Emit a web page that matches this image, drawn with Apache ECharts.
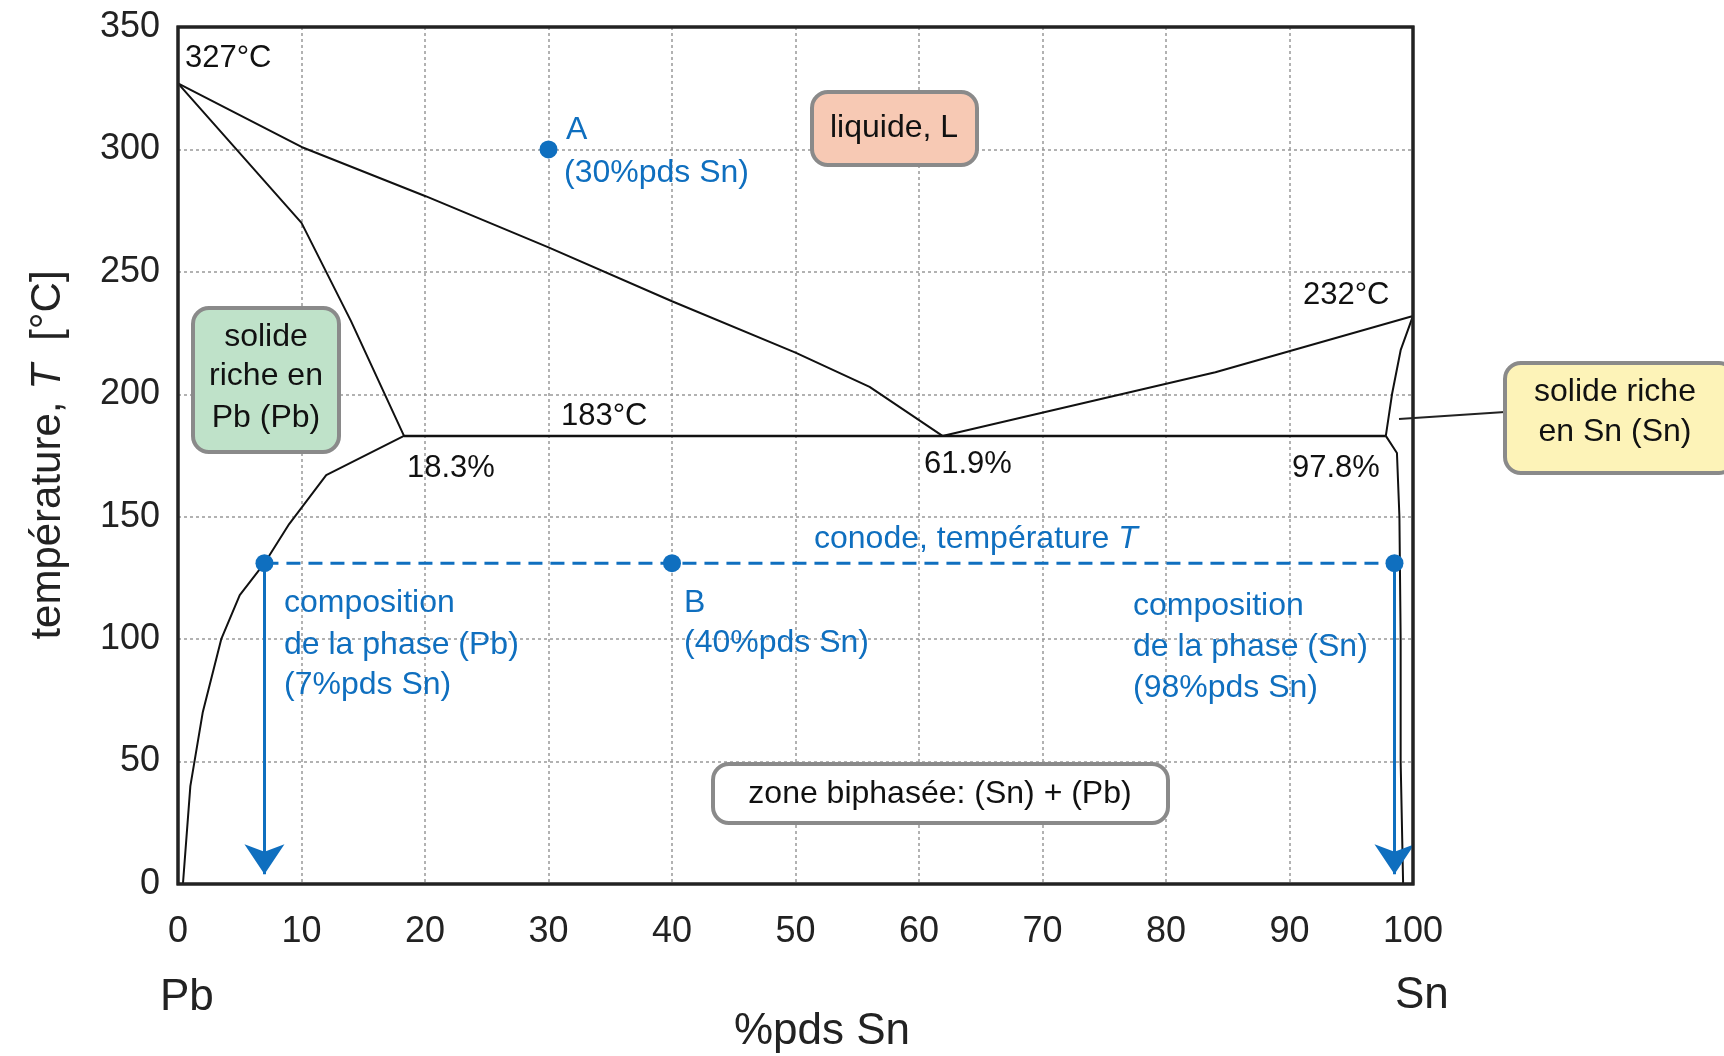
<!DOCTYPE html>
<html><head><meta charset="utf-8">
<script src="https://cdn.jsdelivr.net/npm/echarts@6/dist/echarts.min.js"></script>
<style>html,body{margin:0;background:#fff}#c{width:1724px;height:1056px}</style>
</head><body><div id="c"></div>
<script>
// données du diagramme Pb-Sn (x = %pds Sn, y = T en °C)
var xTicks = [0, 10, 20, 30, 40, 50, 60, 70, 80, 90, 100];
var yTicks = [0, 50, 100, 150, 200, 250, 300, 350];
var liquidusPb = [[0,327],[10,301],[20,281],[30,260],[40,238],[50,217],[56,203],[61.9,183]];
var liquidusSn = [[61.9,183],[84,209],[100,232]];
var solidusPb = [[0,327],[10,270],[14,230],[18.3,183]];
var solvusPb = [[18.3,183],[12,167],[9,147],[7,131],[5,118],[3.5,100],[2,70],[1,40],[0.4,0]];
var solidusSn = [[97.8,183],[98.3,200],[99,218],[100,232]];
var solvusSn = [[97.8,183],[98.7,176],[98.9,150],[99,100],[99,50],[99.2,0]];
var eutectique = [[18.3,183],[97.8,183]];
var conode = [[7,131],[40,131],[98.5,131]];
var pointA = [[30,300]];
var fleches = [[[7,131],[7,4]],[[98.5,131],[98.5,4]]];

var blue = '#0f6fbf';
var font = "'Liberation Sans',Arial,sans-serif";
var chart = echarts.init(document.getElementById('c'));

function curve(d, w) {
  return {type:'line', data:d, symbol:'none', silent:true,
    lineStyle:{color:'#111', width:w || 2}, z:3};
}
function txt(x, y, s, c, size, align) {
  return {type:'text', x:x, y:y, z:10, style:{text:s, fill:c || '#111',
    font:(size || 31) + 'px ' + font, textAlign:align || 'left', textVerticalAlign:'middle'}};
}
function box(x, y, w, h, fill) {
  return {type:'rect', shape:{x:x, y:y, width:w, height:h, r:16}, z:9,
    style:{fill:fill, stroke:'#8a8a8a', lineWidth:4}};
}

var series = [
  curve(liquidusPb), curve(liquidusSn), curve(solidusPb), curve(solvusPb),
  curve(solidusSn), curve(solvusSn), curve(eutectique, 2.5),
  {type:'line', data:conode, symbol:'circle', symbolSize:18, showAllSymbol:true,
    itemStyle:{color:blue, opacity:1}, lineStyle:{color:blue, width:3, type:[14,8]}, z:6},
  {type:'scatter', data:pointA, symbolSize:18, itemStyle:{color:blue, opacity:1}, z:6},
  {type:'lines', coordinateSystem:'cartesian2d', z:5,
    data:fleches.map(function (f) { return {coords:f}; }),
    symbol:['none','arrow'], symbolSize:[16,30],
    lineStyle:{color:blue, width:3, opacity:1}}
];

chart.setOption({
  animation:false,
  grid:{left:178, right:311, top:27, bottom:172, show:true, borderColor:'#222', borderWidth:3, z:4},
  xAxis:{type:'value', min:0, max:100, interval:10,
    axisLine:{show:false}, axisTick:{show:false},
    axisLabel:{color:'#222', fontSize:36, fontFamily:font, margin:30},
    splitLine:{lineStyle:{color:'#999', type:[3,3], width:1.5}}},
  yAxis:{type:'value', min:0, max:350, interval:50,
    axisLine:{show:false}, axisTick:{show:false},
    axisLabel:{color:'#222', fontSize:36, fontFamily:font, margin:18},
    splitLine:{lineStyle:{color:'#999', type:[3,3], width:1.5}}},
  series:series,
  graphic:[
    {type:'rect', shape:{x:178, y:27, width:1235, height:857}, z:8, silent:true,
      style:{fill:'none', stroke:'#222', lineWidth:3}},
    {type:'text', x:48, y:455, rotation:Math.PI/2, z:10, style:{
      rich:{n:{fontSize:42, fontFamily:font, fill:'#222'}, i:{fontSize:42, fontFamily:font, fontStyle:'italic', fill:'#222'}},
      text:'{n|température, }{i|T}{n|  [°C]}', textAlign:'center', textVerticalAlign:'middle'}},
    txt(160, 998, 'Pb', '#222', 44), txt(1395, 996, 'Sn', '#222', 44),
    txt(822, 1032, '%pds Sn', '#222', 44, 'center'),
    txt(185, 58, '327°C'), txt(1303, 295, '232°C'), txt(561, 416, '183°C'),
    txt(407, 468, '18.3%'), txt(924, 464, '61.9%'), txt(1292, 468, '97.8%'),
    box(812, 92, 165, 73, '#f7c9b4'), txt(894, 128, 'liquide, L', '#111', 32, 'center'),
    box(193, 308, 146, 144, '#bfe2c9'),
    txt(266, 337, 'solide', '#111', 32, 'center'),
    txt(266, 376, 'riche en', '#111', 32, 'center'),
    txt(266, 418, 'Pb (Pb)', '#111', 32, 'center'),
    {type:'line', shape:{x1:1399, y1:419, x2:1505, y2:412}, z:8, style:{stroke:'#222', lineWidth:2}},
    box(1505, 363, 230, 110, '#fdf3b8'),
    txt(1615, 392, 'solide riche', '#111', 32, 'center'),
    txt(1615, 432, 'en Sn (Sn)', '#111', 32, 'center'),
    box(713, 764, 455, 59, '#fff'),
    txt(940, 794, 'zone biphasée: (Sn) + (Pb)', '#111', 32, 'center'),
    txt(566, 130, 'A', blue, 32), txt(564, 173, '(30%pds Sn)', blue, 32),
    {type:'text', x:814, y:539, z:10, style:{
      rich:{n:{fontSize:32, fontFamily:font, fill:blue}, i:{fontSize:32, fontFamily:font, fontStyle:'italic', fill:blue}},
      text:'{n|conode, température }{i|T}', textVerticalAlign:'middle'}},
    txt(284, 603, 'composition', blue, 32), txt(284, 645, 'de la phase (Pb)', blue, 32),
    txt(284, 685, '(7%pds Sn)', blue, 32),
    txt(684, 603, 'B', blue, 32), txt(684, 643, '(40%pds Sn)', blue, 32),
    txt(1133, 606, 'composition', blue, 32), txt(1133, 647, 'de la phase (Sn)', blue, 32),
    txt(1133, 688, '(98%pds Sn)', blue, 32)
  ]
});
</script></body></html>
